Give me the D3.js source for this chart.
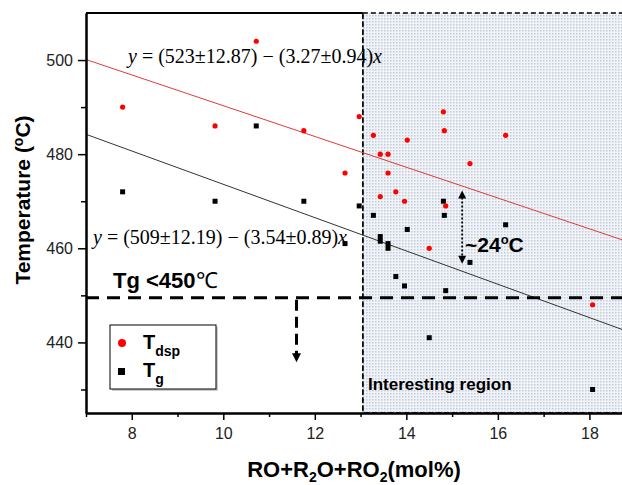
<!DOCTYPE html>
<html>
<head>
<meta charset="utf-8">
<script src="https://cdn.jsdelivr.net/npm/d3@7"></script>
<style>
  body { margin: 0; background: #fff; }
  svg { display: block; }
</style>
</head>
<body>
<div id="chart"></div>
<script>
// composition (mol%) and the two temperatures
var comp = [7.8, 9.82, 10.72, 11.76, 12.66, 12.97, 13.28, 13.43, 13.43, 13.6, 13.6,
            13.77, 13.96, 14.02, 14.5, 14.81, 14.83, 14.86, 15.39, 16.17, 18.07];
var tDsp = [490, 486, 504, 485, 476, 488, 484, 480, 471, 480, 476,
            472, 470, 483, 460, 489, 485, 469, 478, 484, 448];
var tG   = [472, 470, 486, 470, 461, 469, 467, 462.5, 461.5, 461, 460,
            454, 452, 464, 441, 470, 467, 451, 457, 465, 430];

// linear fits: [intercept, slope]
var fitDsp = [523, -3.27];
var fitTg  = [509, -3.54];

var xMajor = [8, 10, 12, 14, 16, 18];
var xMinor = [7, 9, 11, 13, 15, 17];
var yMajor = [440, 460, 480, 500];
var yMinor = [430, 450, 470, 490];

var regionStart = 13.05;   // start of "interesting region"
var tgLimit = 449.5;       // Tg < 450 line

var W = 622, H = 485;
var x = d3.scaleLinear().domain([7, 18.8]).range([86, 626]);
var y = d3.scaleLinear().domain([425, 510]).range([413, 13]);

var svg = d3.select("#chart").append("svg")
    .attr("width", W).attr("height", H)
    .attr("font-family", "Liberation Sans, Arial, sans-serif");

var defs = svg.append("defs");
var pat = defs.append("pattern").attr("id", "dots")
    .attr("width", 3).attr("height", 3).attr("patternUnits", "userSpaceOnUse");
pat.append("rect").attr("width", 3).attr("height", 3).attr("fill", "#f0f3f7");
pat.append("rect").attr("width", 1.5).attr("height", 1.5).attr("fill", "#c3ccd8");

defs.append("clipPath").attr("id", "plotclip")
  .append("rect").attr("x", x(7)).attr("y", y(510))
    .attr("width", x(18.8) - x(7)).attr("height", y(425) - y(510));

// shaded region
svg.append("rect")
    .attr("x", x(regionStart)).attr("y", y(510))
    .attr("width", x(18.8) - x(regionStart)).attr("height", y(425) - y(510))
    .attr("fill", "url(#dots)")
    .attr("stroke", "#000").attr("stroke-width", 1.5)
    .attr("stroke-dasharray", "5,3");

// frame top (solid part)
svg.append("line")
    .attr("x1", x(7)).attr("x2", x(regionStart))
    .attr("y1", y(510)).attr("y2", y(510))
    .attr("stroke", "#000").attr("stroke-width", 2);

// vertical dashed boundary
svg.append("line")
    .attr("x1", x(regionStart)).attr("x2", x(regionStart))
    .attr("y1", y(510)).attr("y2", y(425))
    .attr("stroke", "#000").attr("stroke-width", 1.2)
    .attr("stroke-dasharray", "5,3");

var plot = svg.append("g").attr("clip-path", "url(#plotclip)");

// fit lines
function fitLine(f, color) {
  plot.append("line")
      .attr("x1", x(7)).attr("y1", y(f[0] + f[1] * 7))
      .attr("x2", x(18.8)).attr("y2", y(f[0] + f[1] * 18.8))
      .attr("stroke", color).attr("stroke-width", 1);
}
fitLine(fitDsp, "#e23a3a");
fitLine(fitTg, "#333");

// Tg < 450 dashed line
plot.append("line")
    .attr("x1", x(7)).attr("x2", x(18.8))
    .attr("y1", y(tgLimit)).attr("y2", y(tgLimit))
    .attr("stroke", "#000").attr("stroke-width", 3)
    .attr("stroke-dasharray", "13,8");

// points
plot.selectAll("rect.tg")
    .data(comp)
    .enter().append("rect")
    .attr("class", "tg")
    .attr("x", function(d) { return x(d) - 2.5; })
    .attr("y", function(d, i) { return y(tG[i]) - 2.5; })
    .attr("width", 5).attr("height", 5)
    .attr("fill", "#000");

plot.selectAll("circle.dsp")
    .data(comp)
    .enter().append("circle")
    .attr("class", "dsp")
    .attr("cx", function(d) { return x(d); })
    .attr("cy", function(d, i) { return y(tDsp[i]); })
    .attr("r", 2.6)
    .attr("fill", "#f00");

// axes
var gy = svg.append("g").attr("transform", "translate(" + x(7) + ",0)");
gy.call(d3.axisLeft(y).tickValues(yMajor).tickSize(8).tickSizeOuter(0).tickPadding(5));
var gy2 = svg.append("g").attr("transform", "translate(" + x(7) + ",0)");
gy2.call(d3.axisLeft(y).tickValues(yMinor).tickSize(5).tickSizeOuter(0).tickFormat(""));

var gx = svg.append("g").attr("transform", "translate(0," + y(425) + ")");
gx.call(d3.axisBottom(x).tickValues(xMajor).tickSize(7).tickSizeOuter(0).tickPadding(8));
var gx2 = svg.append("g").attr("transform", "translate(0," + y(425) + ")");
gx2.call(d3.axisBottom(x).tickValues(xMinor).tickSize(4).tickSizeOuter(0).tickFormat(""));

svg.selectAll(".domain").attr("stroke", "#000").attr("stroke-width", 2);
svg.selectAll(".tick line").attr("stroke", "#000").attr("stroke-width", 1.5);
svg.selectAll(".tick text")
    .attr("font-family", "Liberation Sans, Arial, sans-serif")
    .attr("font-size", 16).attr("fill", "#222");

// axis titles
var yt = svg.append("text")
    .attr("transform", "translate(30,200) rotate(-90)")
    .attr("text-anchor", "middle")
    .attr("font-size", 21).attr("font-weight", "bold");
yt.append("tspan").text("Temperature (");
yt.append("tspan").attr("font-size", 14).attr("dy", -7).text("o");
yt.append("tspan").attr("dy", 7).text("C)");

var xt = svg.append("text")
    .attr("x", 354).attr("y", 477)
    .attr("text-anchor", "middle")
    .attr("font-size", 22).attr("font-weight", "bold");
xt.append("tspan").text("RO+R");
xt.append("tspan").attr("font-size", 14).attr("dy", 5).text("2");
xt.append("tspan").attr("dy", -5).text("O+RO");
xt.append("tspan").attr("font-size", 14).attr("dy", 5).text("2");
xt.append("tspan").attr("dy", -5).text("(mol%)");

// fit equations
function equation(px, py, a, b) {
  var t = svg.append("text").attr("x", px).attr("y", py)
      .attr("font-family", "Liberation Serif, Times New Roman, serif")
      .attr("font-size", 20).attr("fill", "#000");
  t.append("tspan").attr("font-style", "italic").text("y");
  t.append("tspan").text(" = (" + a + ") \u2212 (" + b + ")");
  t.append("tspan").attr("font-style", "italic").text("x");
}
equation(128, 63, "523\u00b112.87", "3.27\u00b10.94");
equation(93, 244, "509\u00b112.19", "3.54\u00b10.89");

// Tg < 450 label
var tl = svg.append("text").attr("x", 113).attr("y", 288)
    .attr("font-size", 22).attr("font-weight", "bold");
tl.append("tspan").text("Tg <450");
tl.append("tspan").attr("font-weight", "normal").text("\u2103");

// dashed arrow down
var ax = x(11.6);
svg.append("line")
    .attr("x1", ax).attr("x2", ax)
    .attr("y1", y(tgLimit) + 2).attr("y2", y(437.5))
    .attr("stroke", "#000").attr("stroke-width", 3)
    .attr("stroke-dasharray", "11,6");
svg.append("path")
    .attr("d", "M" + (ax - 4.5) + "," + y(437.7) + "L" + (ax + 4.5) + "," + y(437.7) +
               "L" + ax + "," + y(435.8) + "Z")
    .attr("fill", "#000");

// double dotted arrow
var dx = x(15.22), arrTop = y(472.3), arrBot = y(456.7);
svg.append("line")
    .attr("x1", dx).attr("x2", dx).attr("y1", arrTop + 7).attr("y2", arrBot - 7)
    .attr("stroke", "#000").attr("stroke-width", 1.8)
    .attr("stroke-dasharray", "2,2");
svg.append("path")
    .attr("d", "M" + dx + "," + arrTop + "L" + (dx - 4) + "," + (arrTop + 8) + "L" + (dx + 4) + "," + (arrTop + 8) + "Z" +
               "M" + dx + "," + arrBot + "L" + (dx - 4) + "," + (arrBot - 8) + "L" + (dx + 4) + "," + (arrBot - 8) + "Z")
    .attr("fill", "#000");

var dl = svg.append("text").attr("x", 465).attr("y", 252)
    .attr("font-size", 21).attr("font-weight", "bold");
dl.append("tspan").text("~24");
dl.append("tspan").attr("font-size", 13).attr("dy", -8).text("o");
dl.append("tspan").attr("dy", 8).text("C");

svg.append("text").attr("x", 368).attr("y", 390)
    .attr("font-size", 17).attr("font-weight", "bold")
    .text("Interesting region");

// legend
var lg = svg.append("g");
lg.append("rect").attr("x", 112).attr("y", 327).attr("width", 106).attr("height", 64)
    .attr("fill", "#ccc");
lg.append("rect").attr("x", 110).attr("y", 325).attr("width", 106).attr("height", 64)
    .attr("fill", "#fff").attr("stroke", "#000").attr("stroke-width", 1);
lg.append("circle").attr("cx", 122).attr("cy", 343).attr("r", 4).attr("fill", "#f00");
lg.append("rect").attr("x", 118).attr("y", 368).attr("width", 7).attr("height", 7).attr("fill", "#000");
var l1 = lg.append("text").attr("x", 143).attr("y", 349)
    .attr("font-size", 20).attr("font-weight", "bold");
l1.append("tspan").text("T");
l1.append("tspan").attr("font-size", 14).attr("dy", 7).text("dsp");
var l2 = lg.append("text").attr("x", 143).attr("y", 377)
    .attr("font-size", 20).attr("font-weight", "bold");
l2.append("tspan").text("T");
l2.append("tspan").attr("font-size", 14).attr("dy", 7).text("g");
</script>
</body>
</html>
